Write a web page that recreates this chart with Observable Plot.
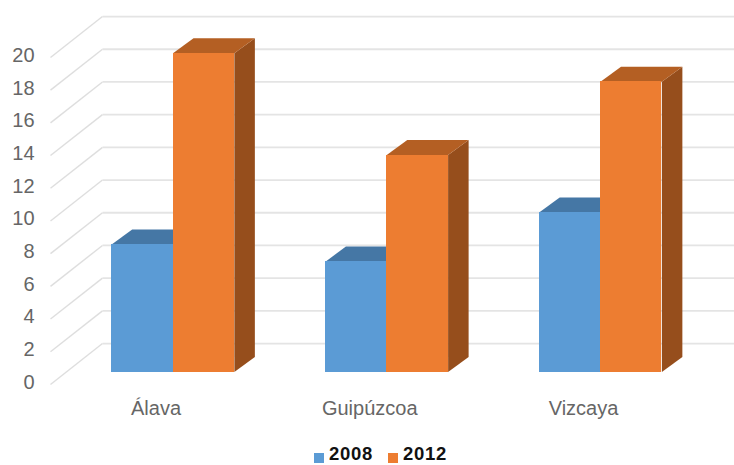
<!DOCTYPE html>
<html>
<head>
<meta charset="utf-8">
<script src="https://cdn.jsdelivr.net/npm/d3@7"></script>
<script src="https://cdn.jsdelivr.net/npm/@observablehq/plot@0.6"></script>
<style>
html,body{margin:0;padding:0;background:#fff;overflow:hidden}
#legend{position:absolute;left:0;top:445px;width:734px;height:20px;font:bold 18.5px "Liberation Sans",Arial,sans-serif;letter-spacing:.7px;color:#111;}
#legend span{position:absolute;top:0;line-height:18px;white-space:nowrap}
#legend i{position:absolute;top:8px;width:10px;height:10px}
</style>
</head>
<body>
<div id="chart"></div>
<div id="legend"></div>
<script>
const categories = ["Álava", "Guipúzcoa", "Vizcaya"];
const series = ["2008", "2012"];
const values2008 = [7.8, 6.75, 9.75];
const values2012 = [19.5, 13.27, 17.75];
const yTicks = [0, 2, 4, 6, 8, 10, 12, 14, 16, 18, 20];

const frontColors = ["#5B9BD5", "#ED7D31"];
const topColors = ["#4577A5", "#B45F23"];
const sideColors = ["#3F6D98", "#964E1C"];

// depth of the 3D box, in scale units
const barW = 0.287, barDx = 0.096, barDy = 0.92;
const wallLeft = -0.573, wallBack = -0.33, wallRight = 2.63;
const floorFront = -0.76, floorBack = 1.74;

const bars = [];
categories.forEach((c, i) => {
  bars.push({c, s: 0, x0: i - barW, x1: i, v: values2008[i]});
  bars.push({c, s: 1, x0: i, x1: i + barW, v: values2012[i]});
});
const topFace = b => [[b.x0, b.v], [b.x1, b.v], [b.x1 + barDx, b.v + barDy], [b.x0 + barDx, b.v + barDy]];
const sideFace = b => [[b.x1, 0], [b.x1 + barDx, barDy], [b.x1 + barDx, b.v + barDy], [b.x1, b.v]];

const face = (b, pts, fill) => Plot.line(pts, {x: d => d[0], y: d => d[1], fill, stroke: "none"});

const barMarks = bars.flatMap(b => [
  face(b, sideFace(b), sideColors[b.s]),
  face(b, topFace(b), topColors[b.s]),
  Plot.rect([b], {x1: "x0", x2: "x1", y1: 0, y2: "v", fill: frontColors[b.s], inset: 0, shapeRendering: "crispEdges"})
]);

const plot = Plot.plot({
  width: 734, height: 445,
  margin: 0,
  x: {domain: [0, 2], range: [172.5, 600], axis: null},
  y: {domain: [0, 20], range: [371.5, 44.5], axis: null},
  marks: [
    // floor/wall grid
    Plot.link(yTicks, {x1: wallLeft, x2: wallBack, y1: d => d + floorFront, y2: d => d + floorBack, stroke: "#DEDEDE", strokeWidth: 1.4}),
    Plot.link(yTicks, {x1: wallBack, x2: wallRight, y1: d => d + floorBack, y2: d => d + floorBack, stroke: "#E4E4E4", strokeWidth: 1.8}),
    ...barMarks,
    Plot.text(yTicks, {x: wallLeft, y: d => d + floorFront, text: d => String(d), textAnchor: "end", dx: -16, dy: -2, fontSize: 20, fill: "#666"}),
    Plot.text(categories, {x: (d, i) => i, y: -2.23, text: d => d, dx: -17, fontSize: 20, fill: "#666"})
  ],
  style: {fontFamily: "'Liberation Sans', Arial, sans-serif", background: "#fff"}
});
document.getElementById("chart").appendChild(plot);
plot.style.display = "block";

const legend = document.getElementById("legend");
series.forEach((s, i) => {
  const sw = document.createElement("i");
  sw.style.left = (314 + i * 74) + "px";
  sw.style.background = frontColors[i];
  const t = document.createElement("span");
  t.style.left = (329 + i * 74) + "px";
  t.textContent = s;
  legend.append(sw, t);
});
</script>
</body>
</html>
